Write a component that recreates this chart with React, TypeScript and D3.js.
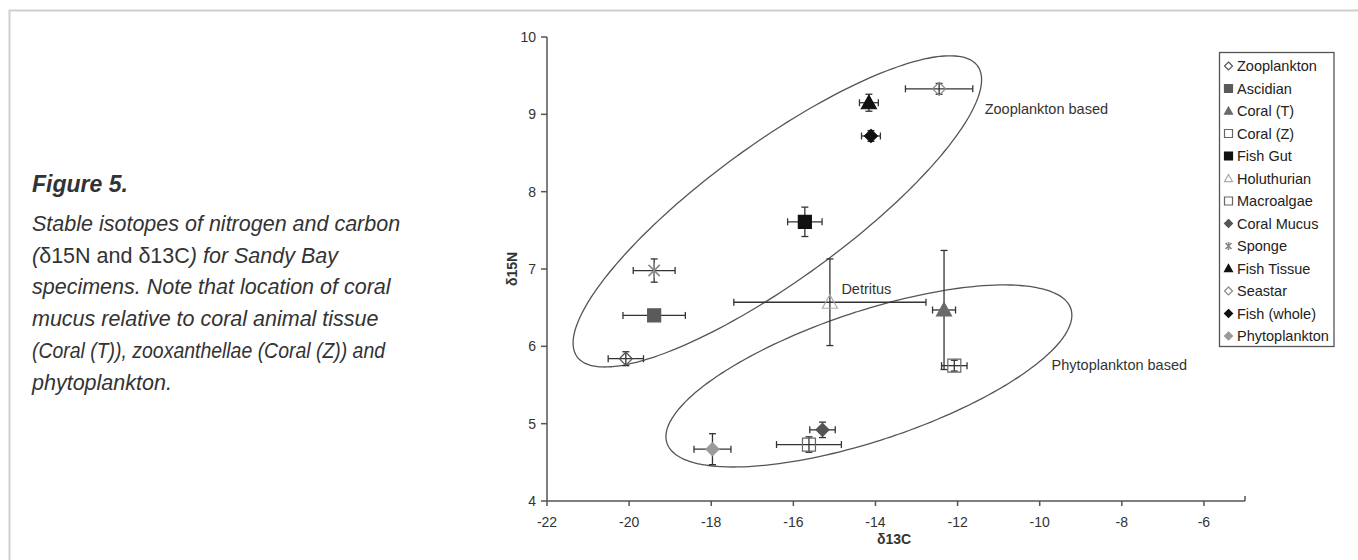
import React from "react";
import * as d3 from "d3";

const species = [
  "Zooplankton", "Ascidian", "Coral (T)", "Coral (Z)", "Fish Gut", "Holuthurian",
  "Macroalgae", "Coral Mucus", "Sponge", "Fish Tissue", "Seastar", "Fish (whole)", "Phytoplankton",
];
const d13C = [-20.08, -19.39, -12.33, -12.08, -15.72, -15.11, -15.62, -15.29, -19.39, -14.16, -12.45, -14.11, -17.97];
const d15N = [5.84, 6.40, 6.47, 5.75, 7.61, 6.57, 4.73, 4.92, 6.98, 9.15, 9.33, 8.72, 4.67];
const errC = [0.43, 0.76, 0.28, 0.31, 0.42, 2.34, 0.79, 0.31, 0.51, 0.23, 0.82, 0.23, 0.45];
const errN = [0.09, 0.0, 0.77, 0.07, 0.19, 0.56, 0.10, 0.10, 0.15, 0.11, 0.07, 0.07, 0.20];
const markerShape = ["diamondOpen", "square", "triangle", "squareOpen", "square", "triangleOpen", "squareOpen", "diamond", "asterisk", "triangle", "diamondOpen", "diamond", "diamond"];
const markerColor = ["#555", "#5a5a5a", "#6a6a6a", "#666", "#111", "#aaa", "#666", "#555", "#888", "#111", "#888", "#111", "#9a9a9a"];

const xTicks = [-22, -20, -18, -16, -14, -12, -10, -8, -6];
const yTicks = [4, 5, 6, 7, 8, 9, 10];

// ellipses: center and conjugate semi-axis vectors in data units
const ellipseNames = ["Zooplankton based", "Phytoplankton based"];
const ellipseCenter = [[-16.39, 7.745], [-14.16, 5.617]];
const ellipseMajor = [[4.877, 1.88], [4.918, 0.869]];
const ellipseMinor = [[0.979, -0.717], [0.497, -0.794]];
const ellipseLabelPos = [[-11.34, 9.0], [-9.71, 5.7]];
const detritusLabelPos = [-14.83, 6.68];

const FONT = "'Liberation Sans', Arial, Helvetica, sans-serif";

function markerPath(shape: string, s: number): string {
  const h = s / 2;
  if (shape.startsWith("diamond")) return `M0,${-h}L${h},0L0,${h}L${-h},0Z`;
  if (shape.startsWith("square")) return `M${-h},${-h}H${h}V${h}H${-h}Z`;
  if (shape.startsWith("triangle")) return `M0,${-h}L${h},${h * 0.8}L${-h},${h * 0.8}Z`;
  const d = h * 0.75;
  return `M0,${-h}V${h}M${-d},${-d}L${d},${d}M${-d},${d}L${d},${-d}`;
}

function Marker({ shape, color, size, x, y }: { shape: string; color: string; size: number; x: number; y: number }) {
  const open = shape.endsWith("Open");
  const ast = shape === "asterisk";
  return (
    <path
      transform={`translate(${x},${y})`}
      d={markerPath(shape, size)}
      fill={open || ast ? "none" : color}
      stroke={color}
      strokeWidth={ast ? 1.6 : 1.2}
    />
  );
}

export default function App() {
  const W = 1358, H = 560;
  const x = d3.scaleLinear().domain([-22, -5]).range([547, 1245]);
  const y = d3.scaleLinear().domain([4, 10]).range([501, 37]);

  const ellipsePaths = ellipseCenter.map((c, k) => {
    const pts: [number, number][] = d3.range(0, 360, 2).map((deg) => {
      const t = (deg * Math.PI) / 180;
      const dx = c[0] + Math.cos(t) * ellipseMajor[k][0] + Math.sin(t) * ellipseMinor[k][0];
      const dy = c[1] + Math.cos(t) * ellipseMajor[k][1] + Math.sin(t) * ellipseMinor[k][1];
      return [x(dx), y(dy)];
    });
    return d3.line().curve(d3.curveCardinalClosed)(pts) as string;
  });

  const cap = 3.5;
  const sizes = species.map((_, i) => (markerShape[i].startsWith("triangle") ? 15 : markerShape[i].startsWith("square") ? 13 : markerShape[i] === "asterisk" ? 15 : 13));

  const captionStyle: React.CSSProperties = { fontFamily: FONT, fontSize: 21.5, fill: "#333" };

  return (
    <svg width={W} height={H} style={{ position: "absolute", left: 0, top: 0, background: "#fff" }}>
      <path d={`M9.5,${H}V10.5H${W}`} fill="none" stroke="#cfcfcf" strokeWidth={2} />

      <text x={32} y={191.5} style={{ fontFamily: FONT, fontSize: 23, fontWeight: "bold", fontStyle: "italic", fill: "#333" }}>Figure 5.</text>
      <g style={captionStyle}>
        <text x={32} y={231} fontStyle="italic">Stable isotopes of nitrogen and carbon</text>
        <text x={32} y={262.5}>
          <tspan fontStyle="italic">(</tspan>
          <tspan>δ15N and δ13C</tspan>
          <tspan fontStyle="italic">) for Sandy Bay</tspan>
        </text>
        <text x={32} y={294} fontStyle="italic">specimens. Note that location of coral</text>
        <text x={32} y={326} fontStyle="italic">mucus relative to coral animal tissue</text>
        <text x={32} y={358} fontStyle="italic" textLength={353} lengthAdjust="spacingAndGlyphs">(Coral (T)), zooxanthellae (Coral (Z)) and</text>
        <text x={32} y={389.5} fontStyle="italic">phytoplankton.</text>
      </g>

      <g stroke="#555" strokeWidth={1.5} fill="none">
        <line x1={x(-22)} x2={x(-22)} y1={y(10)} y2={y(4)} />
        <line x1={x(-22)} x2={x(-5)} y1={y(4)} y2={y(4)} />
        <line x1={x(-5)} x2={x(-5)} y1={y(4)} y2={y(4) - 5} />
        {yTicks.map((t) => (
          <line key={t} x1={x(-22) - 6} x2={x(-22)} y1={y(t)} y2={y(t)} />
        ))}
        {xTicks.map((t) => (
          <line key={t} x1={x(t)} x2={x(t)} y1={y(4)} y2={y(4) + 5} />
        ))}
      </g>
      <g style={{ fontFamily: FONT, fontSize: 14, fill: "#333" }}>
        {yTicks.map((t) => (
          <text key={t} x={x(-22) - 11} y={y(t) + 5} textAnchor="end">{t}</text>
        ))}
        {xTicks.map((t) => (
          <text key={t} x={x(t)} y={y(4) + 26} textAnchor="middle">{t}</text>
        ))}
      </g>
      <text x={(x(-22) + x(-5)) / 2 - 2} y={544} textAnchor="middle" style={{ fontFamily: FONT, fontSize: 14, fontWeight: "bold", fill: "#333" }}>δ13C</text>
      <text transform={`translate(517,${y(7)}) rotate(-90)`} textAnchor="middle" style={{ fontFamily: FONT, fontSize: 14, fontWeight: "bold", fill: "#333" }}>δ15N</text>

      {ellipsePaths.map((p, k) => (
        <path key={k} d={p} fill="none" stroke="#555" strokeWidth={1.3} />
      ))}

      <g stroke="#333" strokeWidth={1.3} fill="none">
        {species.map((s, i) => {
          const cx = x(d13C[i]), cy = y(d15N[i]);
          const xl = x(d13C[i] - errC[i]), xr = x(d13C[i] + errC[i]);
          const yt = y(d15N[i] + errN[i]), yb = y(d15N[i] - errN[i]);
          return (
            <g key={s}>
              <line x1={xl} x2={xr} y1={cy} y2={cy} />
              <line x1={xl} x2={xl} y1={cy - cap} y2={cy + cap} />
              <line x1={xr} x2={xr} y1={cy - cap} y2={cy + cap} />
              {errN[i] > 0 && (
                <>
                  <line x1={cx} x2={cx} y1={yt} y2={yb} />
                  <line x1={cx - cap} x2={cx + cap} y1={yt} y2={yt} />
                  <line x1={cx - cap} x2={cx + cap} y1={yb} y2={yb} />
                </>
              )}
            </g>
          );
        })}
      </g>

      {species.map((s, i) => (
        <Marker key={s} shape={markerShape[i]} color={markerColor[i]} size={sizes[i]} x={x(d13C[i])} y={y(d15N[i])} />
      ))}

      <g style={{ fontFamily: FONT, fontSize: 14.5, fill: "#333" }}>
        {ellipseNames.map((n, k) => (
          <text key={n} x={x(ellipseLabelPos[k][0])} y={y(ellipseLabelPos[k][1])}>{n}</text>
        ))}
        <text x={x(detritusLabelPos[0])} y={y(detritusLabelPos[1])}>Detritus</text>
      </g>

      <rect x={1219.5} y={52.5} width={114.5} height={294} fill="#fff" stroke="#555" strokeWidth={1.3} />
      {species.map((s, i) => {
        const ly = 66 + i * 22.5;
        return (
          <g key={s}>
            <Marker shape={markerShape[i]} color={markerColor[i]} size={8} x={1228.5} y={ly} />
            <text x={1237} y={ly + 5} style={{ fontFamily: FONT, fontSize: 14.5, fill: "#222" }}>{s}</text>
          </g>
        );
      })}
    </svg>
  );
}
